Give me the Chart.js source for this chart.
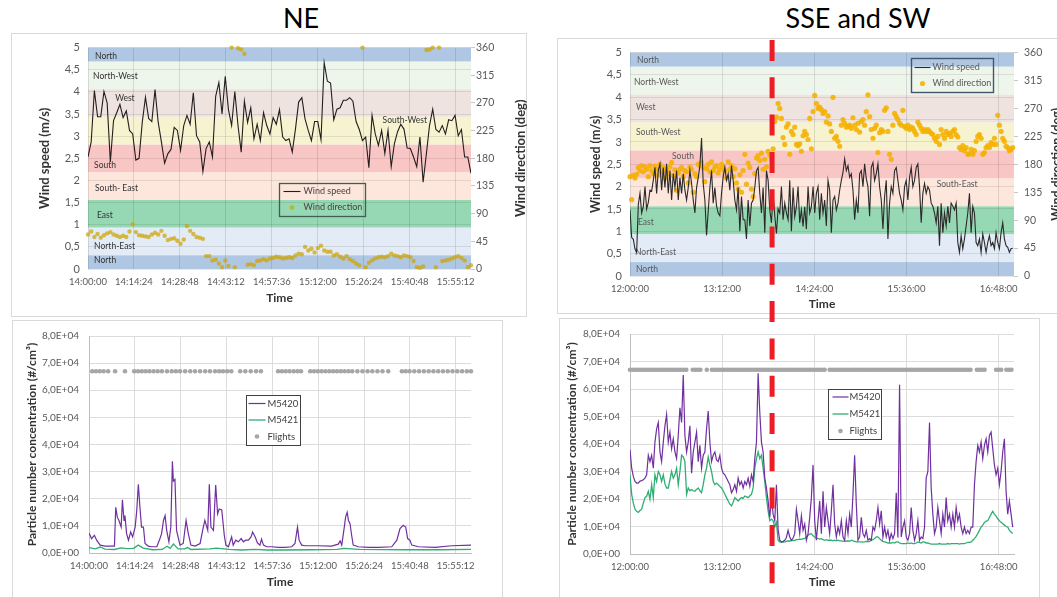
<!DOCTYPE html>
<html lang="en">
<head>
<meta charset="utf-8">
<title>Wind and particle number concentration</title>
<script src="https://cdn.jsdelivr.net/npm/chart.js@4.4.1/dist/chart.umd.min.js"></script>
<style>
  html, body { margin: 0; padding: 0; background: #fff; }
  body { position: relative; width: 1057px; height: 597px; overflow: hidden; font-family: Lato, "Open Sans", sans-serif; }
  .titulo { position: absolute; top: 3px; font-size: 27px; line-height: 30px; color: #000; transform: translateX(-50%); white-space: nowrap; }
  .painel { position: absolute; border: 1px solid #d9d9d9; box-sizing: border-box; }
  canvas { position: absolute; }
  #linhaCorte { pointer-events: none; }
</style>
</head>
<body>
<div class="titulo" style="left:301px">NE</div>
<div class="titulo" style="left:858px">SSE and SW</div>

<div class="painel" style="left:11px;top:33px;width:516px;height:284px"></div>
<div class="painel" style="left:557px;top:38px;width:510px;height:276px"></div>
<div class="painel" style="left:12px;top:320px;width:491px;height:290px"></div>
<div class="painel" style="left:559px;top:318px;width:481px;height:290px"></div>

<canvas id="graficoVentoNE" width="530" height="283" style="left:10px;top:33px"></canvas>
<canvas id="graficoVentoSSE" width="510" height="275" style="left:557px;top:38px"></canvas>
<canvas id="graficoPartNE" width="495" height="277" style="left:10px;top:320px"></canvas>
<canvas id="graficoPartSSE" width="490" height="279" style="left:557px;top:318px"></canvas>
<canvas id="linhaCorte" width="1057" height="597" style="left:0;top:0"></canvas>

<script>
// ---- eixos de tempo ----
const neInicio = "14:00:00";
const neFim = "16:00:00";
const sseInicio = "12:00:00";
const sseFim = "17:00:00";
const neTicks = ["14:00:00", "14:14:24", "14:28:48", "14:43:12", "14:57:36", "15:12:00", "15:26:24", "15:40:48", "15:55:12"];
const sseTicks = ["12:00:00", "13:12:00", "14:24:00", "15:36:00", "16:48:00"];
const momentoCorte = "13:51:00";

// ---- setores de direcao do vento (graus) ----
const faixaNome = ["North", "North-East", "East", "South-East", "South", "South-West", "West", "North-West", "North"];
const faixaDe = [0, 22.5, 67.5, 112.5, 157.5, 202.5, 247.5, 292.5, 337.5];
const faixaAte = [22.5, 67.5, 112.5, 157.5, 202.5, 247.5, 292.5, 337.5, 360];

// ---- vento NE: uma leitura por minuto a partir de 14:00 ----
const neIntervalo = 1;
const neVelocidade = [
  2.53, 2.87, 4.03, 3.44, 3.44, 4.01, 3.75, 2.42, 3.35, 3.53,
  3.72, 3.42, 3.57, 3.13, 3.05, 2.46, 2.5, 3.31, 3.88, 3.4,
  3.33, 4.05, 3.31, 2.87, 2.39, 2.6, 2.7, 3.2, 3.13, 2.68,
  3.24, 3.47, 3.27, 3.98, 3.01, 2.87, 2.2, 2.72, 2.87, 2.53,
  3.9, 4.21, 3.5, 4.35, 3.6, 3.24, 4.01, 3.24, 2.64, 3.79,
  3.31, 3.64, 2.94, 3.27, 2.9, 3.53, 3.24, 3.05, 3.42, 3.27,
  3.6, 2.98, 2.9, 2.94, 2.64, 3.16, 3.77, 3.87, 3.39, 3.13,
  2.9, 3.33, 3.33, 2.92, 4.66, 4.24, 4.2, 3.37, 3.61, 3.64,
  3.81, 3.81, 3.87, 3.79, 3.33, 3.15, 2.9, 2.98, 2.29, 3.47,
  3.05, 2.79, 3.13, 2.61, 3.13, 2.31, 2.83, 3.1, 3.27, 3.16,
  2.73, 2.72, 2.53, 2.31, 2.98, 1.96, 2.59, 3.24, 3.61, 3.15,
  3.09, 3.24, 3.05, 3.37, 3.35, 3.47, 3.01, 3.15, 2.53, 2.53,
  2.16
];
const neDirecao = [
  56, 61, 52, 57, 51, 55, 58, 60, 56, 54,
  52, 54, 52, 61, 73, 60, 55, 54, 53, 52,
  56, 59, 56, 62, 54, 47, 49, 50, 46, 41,
  48, 70, 62, 57, 52, 51, 49, 21, 21, 14,
  15, 9, 3, 14, 5, 360, 3, 359, 357, 350,
  7, 8, 6, 13, 14, 16, 14, 17, 18, 20,
  19, 17, 18, 19, 18, 22, 25, 24, 36, 30,
  33, 27, 34, 38, 30, 28, 28, 22, 24, 20,
  17, 21, 16, 13, 9, 6, 360, 3, 10, 14,
  17, 19, 20, 19, 21, 25, 22, 21, 19, 22,
  21, 19, 13, 3, 2, 4, 356, 357, 360, 3,
  360, 13, 14, 15, 17, 19, 21, 18, 14, 3,
  6
];

// ---- vento SSE/SW: leituras a cada 1,3 min a partir de 12:00 ----
const sseIntervalo = 1.3;
const sseVelocidade = [
  1.48, 0.86, 0.82, 0.6, 0.53, 1.6, 1.85, 1.41, 1.55, 2.0,
  1.5, 1.65, 1.92, 1.9, 2.14, 2.43, 1.85, 2.36, 2.51, 1.92,
  2.43, 1.98, 2.51, 1.85, 2.36, 1.7, 2.29, 1.98, 2.36, 1.7,
  2.2, 1.85, 2.29, 1.92, 1.7, 1.98, 2.36, 2.07, 1.7, 1.41,
  1.98, 2.2, 2.47, 3.09, 2.07, 1.7, 0.91, 1.45, 1.98, 2.36,
  1.63, 1.98, 1.57, 1.41, 1.35, 1.85, 2.22, 2.43, 2.14, 2.29,
  1.92, 2.47, 2.14, 1.7, 1.48, 1.98, 1.0, 1.78, 1.26, 1.26,
  0.83, 1.7, 1.12, 1.63, 1.7, 1.98, 2.36, 2.43, 1.85, 1.41,
  1.98, 0.97, 2.36, 2.14, 1.48, 1.19, 1.85, 1.35, 0.95, 1.5,
  1.41, 2.0, 1.26, 1.63, 1.41, 1.26, 2.14, 1.0, 1.98, 1.33,
  1.55, 2.0, 1.19, 1.48, 1.11, 1.55, 1.05, 2.0, 1.41, 1.55,
  2.0, 1.41, 1.85, 2.0,
  1.26, 1.85, 1.41, 1.7, 1.12, 2.14, 1.92, 0.97, 1.7, 1.78,
  1.48, 1.63, 1.92, 2.14, 2.32, 2.62, 2.36, 2.47, 2.21, 2.29,
  1.92, 1.26, 1.7, 1.41, 2.29, 2.36, 2.0, 2.51, 2.18, 2.0,
  1.34, 2.43, 2.54, 2.14, 2.29, 2.51, 2.0, 1.7, 1.05, 1.78,
  2.14, 0.83, 1.63, 2.0, 1.85, 2.36, 2.43, 2.14, 1.85, 1.7,
  1.48, 2.0, 2.14, 1.7, 2.21, 2.43, 2.0, 2.14, 2.43, 2.51,
  2.0, 1.19, 1.85, 2.07, 1.85, 2.0, 1.92, 1.63, 1.56, 1.41,
  1.19, 1.56, 0.68, 1.63, 0.97, 1.41, 1.12, 1.56, 1.19, 1.63,
  1.56, 1.48, 1.63, 0.75, 0.53, 0.9, 0.61, 0.83, 1.12, 1.41,
  1.85, 0.97, 1.56, 1.41, 0.75, 0.68, 0.83, 0.53, 0.94, 0.75,
  0.53, 0.75, 0.9, 0.68, 0.75, 0.61, 0.97, 0.75, 0.61, 0.97,
  1.19, 0.83, 0.68, 0.64, 0.53, 0.61, 0.62
];
const sseDirecao = [
  160, 123, 162, 158, 164, 175, 170, 178, 168, 176,
  172, 160, 178, 170, 165, 177, 172, 163, 180, 168,
  175, 158, 170, 165, 176, 183, 162, 171, 138, 166,
  172, 175, 160, 170, 168, 150, 176, 172, 135, 165,
  160, 180, 178, 183, 175, 152, 173, 180, 168, 184,
  170, 176, 178, 166, 172, 180, 175, 170, 158, 184,
  172, 178, 160, 173, 150, 140, 163, 135, 170, 196,
  148, 182, 175, 140, 128, 165, 190, 194, 186, 198,
  172, 188, 176, 201, 195, 188, 205, 249, 256, 278,
  270, 254, 223, 212, 240, 245, 196, 233, 228, 240,
  212, 210, 213, 201, 226, 233, 228, 220, 254, 205,
  265, 291, 278, 270,
  272, 268, 262, 265, 248, 258, 245, 233, 288, 222,
  225, 217, 209, 243, 252, 246, 240, 241, 243, 238,
  255, 243, 236, 246, 232, 249, 252, 243, 265, 292,
  257, 236, 222, 238, 243, 199, 231, 236, 233, 267,
  271, 233, 196, 188, 243, 262, 257, 252, 246, 243,
  267, 241, 238, 243, 236, 240, 238, 233, 228, 248,
  243, 238, 233, 236, 233, 236, 233, 230, 228, 222,
  217, 225, 212, 236, 228, 222, 233, 228, 230, 225,
  233, 236, 228, 224, 207, 204, 210, 202, 207, 196,
  197, 204, 196, 202, 217, 225, 228, 222, 196, 199,
  207, 210, 207, 215, 212, 222, 212, 259, 243, 233,
  222, 217, 209, 207, 202, 204, 207
];

// ---- particulas NE (minutos depois de 14:00) ----
const neTempoM5420 = [
  0, 0.8, 1.7, 2.4, 3.5, 5, 7.1, 8, 8.4, 8.9,
  9.4, 10.1, 10.5, 11, 11.3, 11.8, 12.4, 13.1, 13.7, 14.5,
  15, 15.5, 16, 16.5, 17.1, 17.6, 18.6, 19.7, 21.3, 22.3,
  22.8, 23.4, 23.9, 24.4, 25.1, 25.7, 26.2, 26.5, 27, 27.5,
  28.6, 29.6, 30.5, 31.2, 32, 33.3, 34.9, 35.9, 36.4, 37.3,
  37.8, 38.3, 39.1, 39.8, 40.4, 40.9, 41.7, 42.5, 43, 43.8,
  44.8, 45.3, 46.1, 46.9, 47.8, 48.5, 49.2, 50.1, 50.9, 51.4,
  52.2, 52.9, 53.7, 54.2, 54.8, 55.8, 57.4, 59.5, 61.6, 63.7,
  64.7, 65.5, 66, 66.8, 67.9, 72, 76.2, 78.3, 78.9, 79.4,
  80.2, 80.6, 81.1, 81.5, 82, 82.5, 83, 84.6, 87.8, 90.9,
  95.1, 96.7, 97.7, 98.7, 99.5, 100.1, 100.8, 101.4, 103.5, 108.7,
  113.9, 120
];
const neM5420 = [
  7390, 5330, 6540, 4730, 2910, 2550, 2550, 2550, 16850, 13210,
  12000, 9570, 19630, 12000, 13820, 7150, 4730, 7760, 5940, 9570,
  15630, 25330, 16850, 9570, 9570, 3510, 2550, 2300, 2300, 5330,
  7150, 12000, 13820, 8360, 4120, 9570, 33810, 26540, 27150, 8360,
  2910, 3510, 12000, 7150, 2910, 2550, 3510, 9570, 12000, 8360,
  25330, 9570, 8360, 25090, 14420, 16240, 15880, 6540, 2910, 2300,
  5940, 2910, 4730, 4120, 5330, 4120, 4730, 4730, 5940, 7760,
  5940, 3760, 2910, 5090, 2910, 2300, 2300, 2060, 2060, 2300,
  3510, 9570, 4730, 2910, 2670, 2670, 2550, 3270, 4480, 2910,
  9570, 13210, 15030, 12000, 10790, 6540, 2910, 2300, 2060, 2060,
  2300, 4730, 8970, 10180, 9570, 5330, 4730, 2910, 2300, 2060,
  2670, 2910
];
const neTempoM5421 = [0, 2, 3.5, 5, 8, 10, 12, 14, 15.5, 17, 20, 23, 24.5, 25.5, 26.5, 28, 30, 31, 32, 38, 40, 44, 48, 52, 56, 60, 70, 78, 80, 85, 100, 110, 120];
const neM5421 = [2000, 1500, 2200, 1400, 1300, 1900, 1600, 1700, 2900, 1800, 1200, 1300, 2500, 1700, 3300, 1500, 1500, 2000, 1300, 1500, 1800, 1300, 1100, 1300, 1100, 1100, 1200, 1300, 1700, 1300, 1200, 1200, 1300];
const neVoos = [
  1, 2.2, 3.4, 4.6, 6, 8.2, 11.3, 14.2, 15.4, 16.6, 17.8, 19, 20.3, 21.6, 22.9, 24.5, 26, 27.3, 28.6, 30.2,
  31.8, 33.3, 34.9, 36.5, 38, 39.6, 40.9, 42.1, 43.4, 44.7, 47.5, 49.1, 50.8, 52.5, 54, 59.4, 60.6, 61.8, 63, 64.3,
  65.5, 66.6, 69.5, 70.7, 71.9, 73.1, 74.3, 75.5, 76.7, 77.9, 79.1, 80.3, 81.5, 82.7, 84.3, 85.9, 87.5, 89, 90.6, 92.2,
  94, 98.3, 99.5, 100.7, 102.2, 103.7, 105.2, 106.7, 108.2, 109.7, 111.2, 112.7, 114.2, 115.7, 117.2, 118.7, 120
];

// ---- particulas SSE/SW (mesmo passo de 1,3 min do vento) ----
const sseM5420 = [
  38000, 31200, 28200, 26400, 25800, 25800, 26500, 26700, 27000, 27600,
  28800, 35900, 33600, 35900, 31200, 40700, 45500, 47800, 37100, 33600,
  40700, 46600, 50800, 40700, 44300, 38300, 41900, 37100, 34700, 43100,
  53200, 47800, 65100, 43100, 37100, 40700, 46600, 29400, 37100, 40700,
  44300, 33600, 39500, 31200, 35900, 37100, 45500, 52000, 40700, 33600,
  35900, 37100, 34200, 33600, 35900, 31200, 29400, 28800, 27600, 26400,
  25200, 22300, 23400, 25200, 22800, 27600, 25200, 26400, 24000, 26400,
  25200, 27600, 24600, 28800, 26400, 34700, 40700, 65700, 51400, 40700,
  37100, 27600, 24000, 19300, 13300, 20500, 14500, 12100, 25200, 9000,
  5000, 4400, 4600, 5000, 6000, 8600, 6200, 5000, 5800, 7400,
  16300, 12100, 7400, 13900, 8600, 10900, 5000, 7400, 13300, 20500,
  32400, 12100, 5000, 12100, 19300, 7400, 22800, 9800, 16900, 12100,
  7400, 15700, 25200, 10900, 6200, 9800, 7400, 12100, 6200, 5000,
  12100, 7400, 14500, 9800, 21700, 35900, 18000, 5000, 6200, 13300,
  7400, 6200, 8600, 5000, 5600, 5000, 9800, 8600, 12100, 16900,
  10900, 15700, 6200, 9800, 6200, 8600, 5000, 7400, 5600, 7400,
  22300, 6000, 61500, 6200, 9800, 12100, 6200, 5000, 7400, 16900,
  8600, 5000, 7400, 12100, 5000, 6200, 5600, 9800, 27600, 30000,
  47800, 24000, 14500, 7400, 9800, 16900, 12100, 7400, 14500, 9800,
  20500, 12100, 14500, 9800, 14500, 9800, 16900, 12100, 14500, 9800,
  7400, 9800, 7400, 8600, 7400, 9800, 9800, 25200, 33600, 39500,
  37100, 40700, 34700, 39500, 41900, 37100, 43100, 44300, 38300, 32400,
  28800, 31200, 25200, 30000, 37100, 41900, 22800, 14500, 19300, 14500,
  9800
];
const sseM5421 = [
  28800, 21700, 18500, 16300, 15500, 15100, 15800, 16300, 18500, 20500,
  21000, 22800, 19900, 25200, 20500, 28800, 26400, 30000, 28800, 26400,
  28800, 25500, 24000, 24000, 27000, 30000, 27600, 28800, 31200, 25200,
  30000, 35900, 35300, 33600, 21700, 24000, 23000, 23400, 23000, 22800,
  23500, 24000, 23000, 22300, 25200, 28800, 31200, 35300, 32400, 30000,
  26400, 25200, 25800, 25200, 24600, 24000, 23000, 21700, 20500, 19300,
  18100, 17500, 18800, 20500, 19900, 19300, 20000, 20500, 20200, 21100,
  20800, 20500, 21200, 21700, 24000, 31200, 34700, 37100, 34700, 35900,
  31200, 26400, 20500, 15700, 12100, 12700, 12100, 9800, 11500, 5000,
  4400, 4200, 4300, 4400, 4600, 4800, 4600, 5000, 4900, 5000,
  5200, 5200, 5400, 5300, 5600, 5600, 6200, 6800, 7200, 7400,
  6600, 6200, 5800, 5600, 5400, 5600, 5200, 5000, 5200, 5000,
  5000, 5000, 4800, 5000, 4800, 5000, 4800, 4800, 4600, 4800,
  4600, 4800, 4600, 5000, 4800, 4600, 4400, 4400, 4400, 4400,
  4300, 4400, 4600, 4400, 4600, 5000, 5200, 5600, 6200, 6200,
  5600, 5000, 4600, 4400, 4200, 4000, 4000, 4000, 4200, 4000,
  4400, 4400, 4000, 3800, 3800, 3800, 3800, 4000, 3800, 4000,
  3800, 3800, 4000, 4400, 4200, 4000, 4400, 4400, 4000, 4000,
  3800, 3600, 3600, 3600, 3600, 3600, 3800, 3600, 3600, 3600,
  3600, 3800, 3600, 3800, 3800, 3800, 3800, 3800, 3600, 3800,
  3800, 3800, 4000, 4200, 4200, 4400, 5000, 5600, 6400, 7400,
  8600, 9800, 10500, 11500, 12000, 12100, 13300, 14500, 15500, 14500,
  13800, 12800, 12100, 11500, 11000, 10500, 10000, 9800, 8600, 8000,
  7400
];
const sseVoos = [
  0, 2, 4, 6, 8, 10, 12, 14, 16, 18, 20, 22, 24, 26, 28, 30, 32, 34, 36, 38, 40, 42, 44,
  49, 51, 53, 55, 60,
  64, 66, 68, 70, 72, 74, 76, 78, 80, 82, 84, 86, 88, 90, 92, 94, 96, 98, 100, 102, 104, 106,
  108, 110, 112, 114, 116, 118, 120, 122, 124, 126, 128, 130, 132, 134, 136, 138, 140, 142, 144, 146,
  148, 150, 152, 156, 158, 160, 162, 164, 166, 168, 170, 172, 174, 176, 178, 180, 182, 184, 186, 188,
  190, 192, 194, 196, 198, 200, 202, 204, 206, 208, 210, 212, 214, 216, 218, 220, 222, 224, 226, 228,
  230, 232, 234, 236, 238, 240, 242, 244, 246, 248, 250, 252, 254, 256, 258, 260, 262, 264, 266,
  271, 273, 275, 277, 286, 288, 290, 294, 296, 298
];
const nivelVoos = 67000;

// ---- estilo ----
const corTick = "#595959";
const corTitulo = "#333333";
const coresFaixa = ["#b0c7e3", "#e3ebf7", "#97d8b4", "#fde6dc", "#f9c6c6", "#f7f3d1", "#efe3df", "#eef5eb", "#b0c7e3"];

Chart.defaults.font.family = "Lato, 'Open Sans', sans-serif";

function paraMinutos(hms) {
    const p = hms.split(":").map(Number);
    return p[0] * 60 + p[1] + (p[2] || 0) / 60;
}

function serieRegular(inicio, passo, valores) {
    const t0 = paraMinutos(inicio);
    return valores.map((v, i) => ({ x: t0 + i * passo, y: v }));
}

function seriePares(inicio, tempos, valores) {
    const t0 = paraMinutos(inicio);
    return tempos.map((t, i) => ({ x: t0 + t, y: valores[i] }));
}

const virgula = v => String(v).replace(".", ",");
const cientifico = v => v === 0 ? "0,0E+00" : (v / 1e4).toFixed(1).replace(".", ",") + "E+04";

// faixas coloridas + nomes dos setores
const faixasDirecao = {
    id: "faixasDirecao",
    beforeDraw(chart, args, o) {
        const { ctx, chartArea: a } = chart;
        const s = chart.scales.y2;
        ctx.save();
        faixaDe.forEach((de, i) => {
            const topo = s.getPixelForValue(faixaAte[i]);
            const base = s.getPixelForValue(de);
            ctx.fillStyle = o.cores[i];
            ctx.fillRect(a.left, topo, a.right - a.left, base - topo);
        });
        ctx.restore();
    },
    beforeDatasetsDraw(chart, args, o) {
        const ctx = chart.ctx;
        ctx.save();
        ctx.font = o.fonte;
        ctx.fillStyle = o.corTexto;
        ctx.textBaseline = "middle";
        o.rotulos.forEach(r => {
            ctx.fillText(r.texto,
                chart.scales.x.getPixelForValue(paraMinutos(r.hora)),
                chart.scales.y2.getPixelForValue(r.grau));
        });
        ctx.restore();
    }
};

const tituloDireita = {
    id: "tituloDireita",
    afterDraw(chart, args, o) {
        const { ctx, chartArea: a } = chart;
        const s = chart.scales.y2;
        ctx.save();
        ctx.translate(s.right - o.recuo, (a.top + a.bottom) / 2);
        ctx.rotate(-Math.PI / 2);
        ctx.font = o.fonte;
        ctx.fillStyle = corTitulo;
        ctx.textAlign = "center";
        ctx.textBaseline = "middle";
        ctx.fillText(o.texto, 0, 0);
        ctx.restore();
    }
};

const legendaCaixa = {
    id: "legendaCaixa",
    afterDatasetsDraw(chart, args, o) {
        const { ctx, chartArea: a } = chart;
        const x = Math.round(a.left + o.x * (a.right - a.left)) + 0.5;
        const y = Math.round(a.top + o.y * (a.bottom - a.top)) + 0.5;
        ctx.save();
        if (o.fundo) {
            ctx.fillStyle = o.fundo;
            ctx.fillRect(x, y, o.w, o.h);
        }
        ctx.lineWidth = o.espessura;
        ctx.strokeStyle = o.borda;
        ctx.strokeRect(x, y, o.w, o.h);
        ctx.font = o.fonte;
        ctx.textBaseline = "middle";
        chart.data.datasets.forEach((ds, i) => {
            const cy = y + o.topo + i * o.passo;
            if (ds.showLine) {
                ctx.strokeStyle = ds.borderColor;
                ctx.lineWidth = ds.borderWidth;
                ctx.beginPath();
                ctx.moveTo(x + o.marca[0], cy);
                ctx.lineTo(x + o.marca[1], cy);
                ctx.stroke();
            } else {
                ctx.fillStyle = ds.backgroundColor;
                ctx.beginPath();
                ctx.arc(x + (o.marca[0] + o.marca[1]) / 2, cy, ds.pointRadius, 0, Math.PI * 2);
                ctx.fill();
            }
            ctx.fillStyle = o.corTexto;
            ctx.fillText(ds.label, x + o.texto, cy);
        });
        ctx.restore();
    }
};

function eixoTempo(ticksTxt, inicio, fim, altura, corGrade, borda) {
    return {
        type: "linear",
        min: paraMinutos(inicio),
        max: paraMinutos(fim),
        afterBuildTicks: s => { s.ticks = ticksTxt.map(t => ({ value: paraMinutos(t) })); },
        afterFit: s => { s.height = altura; },
        ticks: { callback: (v, i) => ticksTxt[i], autoSkip: false, maxRotation: 0, padding: 7, color: corTick, font: { size: 9.5 } },
        grid: { color: corGrade, drawTicks: false },
        border: borda ? { color: borda } : { display: false },
        title: { display: true, text: "Time", padding: 0, color: corTitulo, font: { size: 12, weight: "bold" } }
    };
}

function graficoVento(id, cfg) {
    return new Chart(document.getElementById(id), {
        type: "scatter",
        data: {
            datasets: [{
                label: "Wind speed",
                data: serieRegular(cfg.inicio, cfg.passo, cfg.velocidade),
                showLine: true,
                borderColor: cfg.corLinha,
                borderWidth: 1.1,
                pointRadius: 0,
                yAxisID: "y"
            }, {
                label: "Wind direction",
                data: serieRegular(cfg.inicio, cfg.passo, cfg.direcao),
                showLine: false,
                pointRadius: cfg.raio,
                pointBorderWidth: 0,
                backgroundColor: cfg.corPonto,
                borderColor: cfg.corPonto,
                yAxisID: "y2",
                clip: false
            }]
        },
        plugins: [faixasDirecao, tituloDireita, legendaCaixa],
        options: {
            responsive: false,
            animation: false,
            events: [],
            layout: { padding: cfg.padding, autoPadding: false },
            scales: {
                x: eixoTempo(cfg.ticks, cfg.inicio, cfg.fim, cfg.alturaX, "rgba(0,0,0,0.11)", null),
                y: {
                    min: 0, max: 5,
                    afterFit: s => { s.width = cfg.larguraY; },
                    ticks: { stepSize: 0.5, callback: virgula, color: corTick, font: { size: 11 }, padding: 8 },
                    grid: { color: "rgba(0,0,0,0.09)", drawTicks: false },
                    border: { display: false },
                    title: { display: true, text: "Wind speed (m/s)", padding: 0, color: corTitulo, font: { size: cfg.fonteTitulo, weight: "bold" } }
                },
                y2: {
                    position: "right",
                    min: 0, max: 360,
                    afterFit: s => { s.width = cfg.larguraY2; },
                    ticks: { stepSize: 22.5, callback: virgula, color: corTick, font: { size: 10.5 }, padding: cfg.padY2 },
                    grid: { drawOnChartArea: false, tickLength: 4, color: "#c8c8c8" },
                    border: { display: false }
                }
            },
            plugins: {
                legend: { display: false },
                tooltip: { enabled: false },
                faixasDirecao: { cores: coresFaixa, rotulos: cfg.rotulos, fonte: "8.5px Lato, sans-serif", corTexto: cfg.corRotulo },
                tituloDireita: { texto: "Wind direction (deg)", fonte: "bold " + cfg.fonteTitulo + "px Lato, sans-serif", recuo: 8 },
                legendaCaixa: cfg.legenda
            }
        }
    });
}

function graficoParticulas(id, cfg) {
    return new Chart(document.getElementById(id), {
        type: "scatter",
        data: {
            datasets: [{
                label: "M5420",
                data: cfg.m5420,
                showLine: true,
                borderColor: "#7030a0",
                borderWidth: 1.2,
                pointRadius: 0
            }, {
                label: "M5421",
                data: cfg.m5421,
                showLine: true,
                borderColor: "#2fae74",
                borderWidth: 1.3,
                pointRadius: 0
            }, {
                label: "Flights",
                data: cfg.voos,
                showLine: false,
                pointRadius: 2.3,
                pointBorderWidth: 0,
                backgroundColor: "#a6a6a6",
                borderColor: "#a6a6a6",
                clip: false
            }]
        },
        plugins: [legendaCaixa],
        options: {
            responsive: false,
            animation: false,
            events: [],
            layout: { padding: cfg.padding, autoPadding: false },
            scales: {
                x: eixoTempo(cfg.ticks, cfg.inicio, cfg.fim, cfg.alturaX, "#dcdcdc", "#bfbfbf"),
                y: {
                    min: 0, max: 80000,
                    afterFit: s => { s.width = cfg.larguraY; },
                    ticks: { stepSize: 10000, callback: cientifico, color: corTick, font: { size: 10 }, padding: 10 },
                    grid: { color: "#dcdcdc", drawTicks: false },
                    border: { color: "#bfbfbf" },
                    title: { display: true, text: "Particle number concentration (#/cm³)", padding: 0, color: corTitulo, font: { size: 12, weight: "bold" } }
                }
            },
            plugins: {
                legend: { display: false },
                tooltip: { enabled: false },
                legendaCaixa: cfg.legenda
            }
        }
    });
}

const graficoVentoNE = graficoVento("graficoVentoNE", {
    inicio: neInicio, fim: neFim, ticks: neTicks, passo: neIntervalo,
    velocidade: neVelocidade, direcao: neDirecao,
    corLinha: "#231e1e", corPonto: "rgba(205,165,0,0.72)", raio: 2.2,
    padding: { left: 27, right: 11, top: 11, bottom: 11 },
    larguraY: 51, larguraY2: 58, padY2: 1, alturaX: 36, fonteTitulo: 13,
    corRotulo: "#333333",
    rotulos: [
        { texto: "North", hora: "14:02:12", grau: 346 },
        { texto: "North-West", hora: "14:01:36", grau: 314 },
        { texto: "West", hora: "14:08:30", grau: 277 },
        { texto: "South-West", hora: "15:32:18", grau: 242 },
        { texto: "South", hora: "14:01:54", grau: 168 },
        { texto: "South- East", hora: "14:02:12", grau: 131 },
        { texto: "East", hora: "14:02:48", grau: 88 },
        { texto: "North-East", hora: "14:01:54", grau: 37 },
        { texto: "North", hora: "14:01:54", grau: 14 }
    ],
    legenda: {
        x: 0.499, y: 0.613, w: 86, h: 33, topo: 8, passo: 16,
        marca: [4, 21], texto: 24, fonte: "9px Lato, sans-serif",
        corTexto: "#4a4040", borda: "#3f5f55", espessura: 1.3, fundo: null
    }
});

const graficoVentoSSE = graficoVento("graficoVentoSSE", {
    inicio: sseInicio, fim: sseFim, ticks: sseTicks, passo: sseIntervalo,
    velocidade: sseVelocidade, direcao: sseDirecao,
    corLinha: "#2a2a2a", corPonto: "rgba(245,176,0,0.88)", raio: 2.6,
    padding: { left: 31, right: 2, top: 10, bottom: 2 },
    larguraY: 42, larguraY2: 51, padY2: 6, alturaX: 35, fonteTitulo: 12.5,
    corRotulo: "#595959",
    rotulos: [
        { texto: "North", hora: "12:05:30", grau: 347 },
        { texto: "North-West", hora: "12:03:06", grau: 313 },
        { texto: "West", hora: "12:04:42", grau: 272 },
        { texto: "South-West", hora: "12:04:42", grau: 231 },
        { texto: "South", hora: "12:32:48", grau: 193 },
        { texto: "South-East", hora: "15:59:36", grau: 148 },
        { texto: "East", hora: "12:06:12", grau: 87 },
        { texto: "North-East", hora: "12:03:54", grau: 38 },
        { texto: "North", hora: "12:04:42", grau: 11 }
    ],
    legenda: {
        x: 0.732, y: 0.026, w: 82, h: 34, topo: 9, passo: 16,
        marca: [3, 19], texto: 21, fonte: "9px Lato, sans-serif",
        corTexto: "#595959", borda: "#44546a", espessura: 1.4, fundo: null
    }
});

const graficoPartNE = graficoParticulas("graficoPartNE", {
    inicio: neInicio, fim: neFim, ticks: neTicks,
    m5420: seriePares(neInicio, neTempoM5420, neM5420),
    m5421: seriePares(neInicio, neTempoM5421, neM5421),
    voos: seriePares(neInicio, neVoos, neVoos.map(() => nivelVoos)),
    padding: { left: 15, right: 34, top: 13, bottom: 8 },
    larguraY: 64, alturaX: 36,
    legenda: {
        x: 0.411, y: 0.273, w: 54, h: 50, topo: 8, passo: 16.5,
        marca: [2, 19], texto: 21, fonte: "9.5px Lato, sans-serif",
        corTexto: "#404040", borda: "#404040", espessura: 1, fundo: "#ffffff"
    }
});

const graficoPartSSE = graficoParticulas("graficoPartSSE", {
    inicio: sseInicio, fim: sseFim, ticks: sseTicks,
    m5420: serieRegular(sseInicio, sseIntervalo, sseM5420),
    m5421: serieRegular(sseInicio, sseIntervalo, sseM5421),
    voos: seriePares(sseInicio, sseVoos, sseVoos.map(() => nivelVoos)),
    padding: { left: 8, right: 33, top: 12, bottom: 8 },
    larguraY: 65, alturaX: 35,
    legenda: {
        x: 0.516, y: 0.25, w: 53, h: 50, topo: 7.5, passo: 17,
        marca: [4, 20], texto: 21, fonte: "9.5px Lato, sans-serif",
        corTexto: "#404040", borda: "#404040", espessura: 1, fundo: "#ffffff"
    }
});

// linha tracejada vermelha na mudanca de direcao (atravessa os dois paineis da direita)
function desenharCorte() {
    const cv = document.getElementById("linhaCorte");
    const ctx = cv.getContext("2d");
    const canvasTopo = graficoVentoSSE.canvas;
    const x = canvasTopo.offsetLeft + graficoVentoSSE.scales.x.getPixelForValue(paraMinutos(momentoCorte));
    ctx.strokeStyle = "#ee1c25";
    ctx.lineWidth = 5;
    ctx.setLineDash([21, 16.3]);
    ctx.beginPath();
    ctx.moveTo(x, canvasTopo.offsetTop + 2);
    ctx.lineTo(x, cv.height);
    ctx.stroke();
}

desenharCorte();
</script>
</body>
</html>
